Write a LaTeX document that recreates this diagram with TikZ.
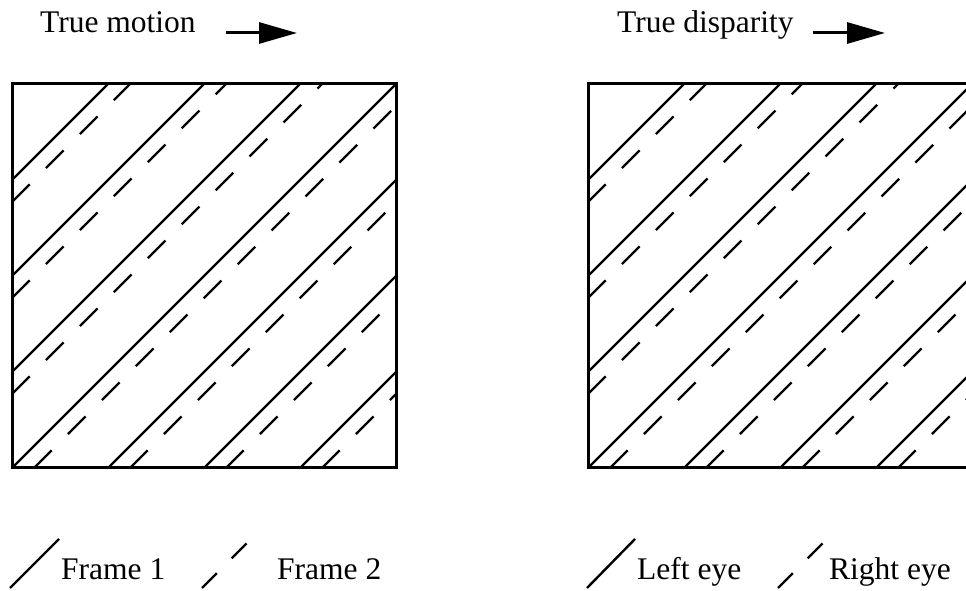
\documentclass[tikz,border=0pt]{standalone}
\usepackage{fontspec}
\setmainfont{Liberation Serif}
\usetikzlibrary{arrows.meta}

\begin{document}
\begin{tikzpicture}[
    x=1pt, y=1pt,
    font=\fontsize{31.5}{37}\selectfont,
    heading/.style={anchor=base west, inner sep=0pt},
    legendtext/.style={anchor=base west, inner sep=0pt},
    edgeline/.style={line width=3pt},
    solidhatch/.style={line width=2.4pt},
    dashhatch/.style={line width=2.4pt, dash pattern=on 25pt off 23pt},
    legenddash/.style={dashhatch, dash pattern=on 21pt off 21pt},
    truearrow/.style={line width=3pt, -{Triangle[length=38pt, width=21pt]}}
  ]
  \useasboundingbox (0,0) rectangle (966,591);
  \clip (0,0) rectangle (966,591);

  \node[heading] (motion) at (40,558) {True motion};
  \coordinate (motionstart) at (226,558);
  \coordinate (motionend) at (297,558);
  \draw[truearrow] (motionstart) -- (motionend);

  \node[heading] (disparity) at (617,558) {True disparity};
  \coordinate (disparitystart) at (813,558);
  \coordinate (disparityend) at (885,558);
  \draw[truearrow] (disparitystart) -- (disparityend);

  \foreach \ox in {12,588} {
    \begin{scope}[shift={(\ox,123)}]
      \foreach \k in {-3,...,3} {
        \pgfmathsetmacro{\c}{\k*96}
        \pgfmathsetmacro{\d}{\k*96-22}
        \draw[solidhatch] ({max(-(\c),0)},{max(\c,0)})
          -- ({min(384-(\c),384)},{min(384+\c,384)});
        \draw[dashhatch] ({max(-(\d),0)},{max(\d,0)})
          -- ({min(384-(\d),384)},{min(384+\d,384)});
      }
      \draw[edgeline] (0,0) rectangle (384,384);
    \end{scope}
  }

  \coordinate (frameonea) at (10,3);
  \coordinate (frameoneb) at (59,52);
  \draw[solidhatch] (frameonea) -- (frameoneb);
  \node[legendtext] (frameone) at (61,11) {Frame 1};
  \coordinate (frametwoa) at (202,3);
  \coordinate (frametwob) at (251,52);
  \draw[legenddash] (frametwoa) -- (frametwob);
  \node[legendtext] (frametwo) at (277,11) {Frame 2};

  \coordinate (lefteyea) at (587,3);
  \coordinate (lefteyeb) at (635,52);
  \draw[solidhatch] (lefteyea) -- (lefteyeb);
  \node[legendtext] (lefteye) at (637,11) {Left eye};
  \coordinate (righteyea) at (778,3);
  \coordinate (righteyeb) at (827,52);
  \draw[legenddash] (righteyea) -- (righteyeb);
  \node[legendtext] (righteye) at (829,11) {Right eye};
\end{tikzpicture}
\end{document}
